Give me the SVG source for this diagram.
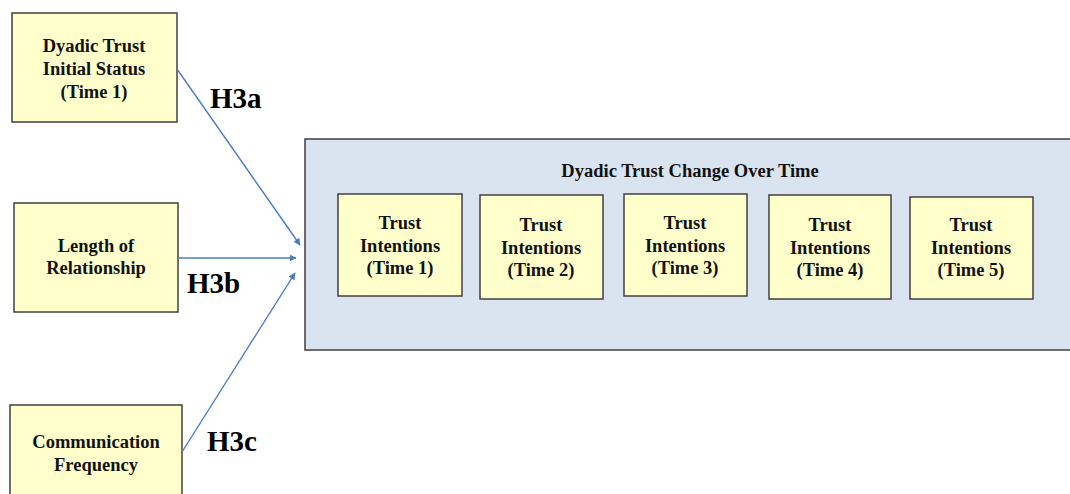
<svg xmlns="http://www.w3.org/2000/svg" width="1070" height="494" viewBox="0 0 1070 494">
<style>
.node{fill:#FFFFCC;stroke:#404040;stroke-width:1.5}
.cont{fill:#DAE3F0;stroke:#404040;stroke-width:1.5}
.t{font-family:'Liberation Serif','Times New Roman','DejaVu Serif',serif;font-weight:bold;font-size:18.5px;fill:#111;text-anchor:middle}
.h{font-family:'Liberation Serif','Times New Roman','DejaVu Serif',serif;font-weight:bold;font-size:29px;fill:#000}
.c{stroke:#4A7CC4;stroke-width:1.4;fill:none;marker-end:url(#ah)}
</style>
<defs>
<marker id="ah" viewBox="0 0 10 10" refX="9" refY="5" markerWidth="7" markerHeight="7" markerUnits="userSpaceOnUse" orient="auto">
<path d="M0,0 L10,5 L0,10 z" fill="#4A7CC4"/>
</marker>
</defs>
<g id="n-initial"><rect class="node" x="12" y="13" width="165" height="109"/>
<text class="t" x="94" y="52">Dyadic Trust</text><text class="t" x="94" y="75">Initial Status</text><text class="t" x="94" y="98">(Time 1)</text></g>
<g id="n-length"><rect class="node" x="14" y="203" width="164" height="109"/>
<text class="t" x="96" y="252">Length of</text><text class="t" x="96" y="274">Relationship</text></g>
<g id="n-comm"><rect class="node" x="10" y="405" width="172" height="100"/>
<text class="t" x="96" y="448">Communication</text><text class="t" x="96" y="471">Frequency</text></g>
<g id="n-change"><rect class="cont" x="305" y="139" width="770" height="211"/>
<text class="t" x="690" y="177">Dyadic Trust Change Over Time</text>
<g id="n-t1"><rect class="node" x="338" y="194" width="124" height="102"/>
<text class="t" x="400" y="229">Trust</text><text class="t" x="400" y="252">Intentions</text><text class="t" x="400" y="274">(Time 1)</text></g>
<g id="n-t2"><rect class="node" x="480" y="195" width="123" height="104"/>
<text class="t" x="541" y="231">Trust</text><text class="t" x="541" y="254">Intentions</text><text class="t" x="541" y="276">(Time 2)</text></g>
<g id="n-t3"><rect class="node" x="624" y="194" width="123" height="102"/>
<text class="t" x="685" y="229">Trust</text><text class="t" x="685" y="252">Intentions</text><text class="t" x="685" y="274">(Time 3)</text></g>
<g id="n-t4"><rect class="node" x="769" y="195" width="122" height="104"/>
<text class="t" x="830" y="231">Trust</text><text class="t" x="830" y="254">Intentions</text><text class="t" x="830" y="276">(Time 4)</text></g>
<g id="n-t5"><rect class="node" x="910" y="197" width="123" height="102"/>
<text class="t" x="971" y="231">Trust</text><text class="t" x="971" y="254">Intentions</text><text class="t" x="971" y="276">(Time 5)</text></g>
</g>
<g id="connectors">
<line class="c" x1="177" y1="69" x2="300" y2="245"/>
<line class="c" x1="178" y1="258" x2="296" y2="258"/>
<line class="c" x1="182" y1="452" x2="295" y2="273"/>
</g>
<g id="labels">
<text class="h" x="210" y="108">H3a</text>
<text class="h" x="187" y="293">H3b</text>
<text class="h" x="207" y="451">H3c</text>
</g>
</svg>
